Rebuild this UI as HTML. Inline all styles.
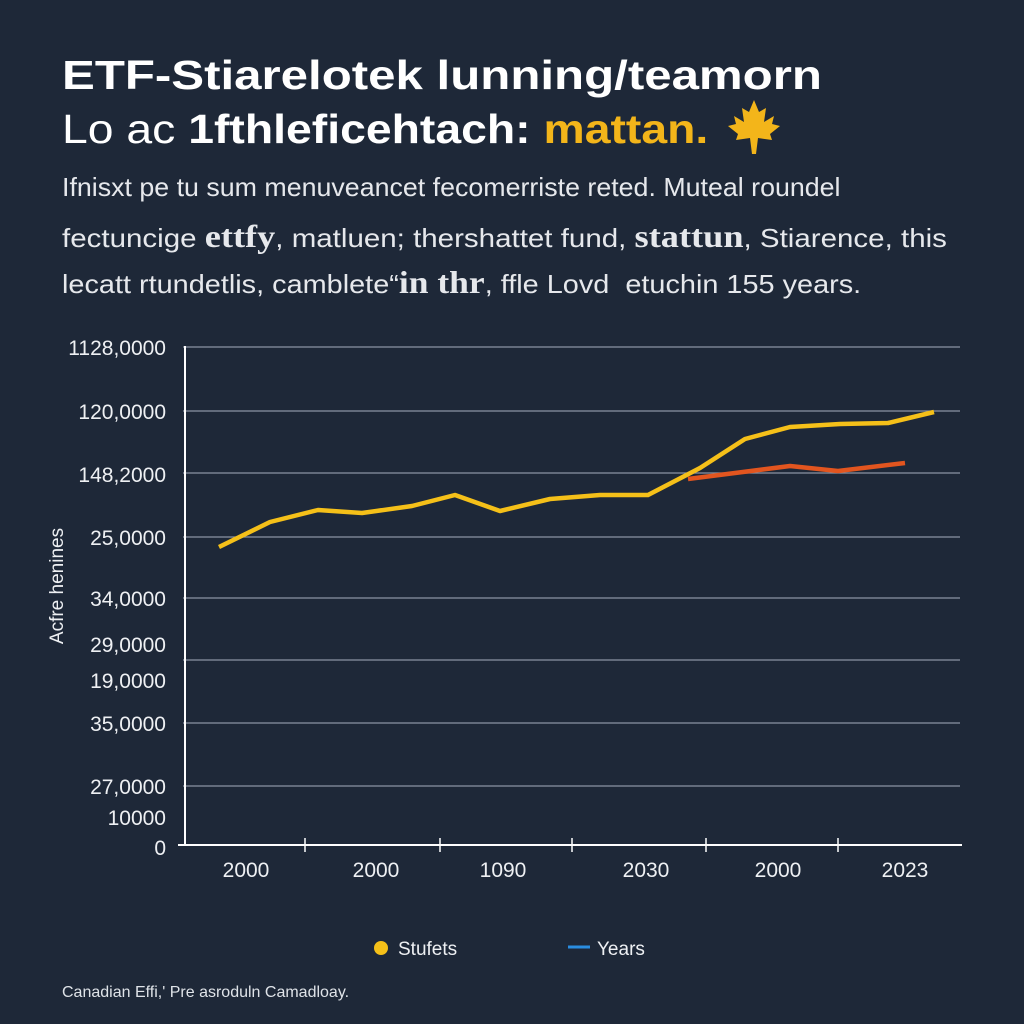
<!DOCTYPE html>
<html><head><meta charset="utf-8"><style>
body{margin:0;background:#1e2838;width:1024px;height:1024px;overflow:hidden;font-family:"Liberation Sans",sans-serif;color:#fff}
.t{position:absolute;white-space:nowrap;transform-origin:0 0}
</style></head><body>
<div class="t" style="left:62px;top:52px;font-size:41px;font-weight:bold;transform:scaleX(1.2)">ETF-Stiarelotek lunning/teamorn</div>
<div class="t" style="left:62px;top:106px;font-size:41px;transform:scaleX(1.13)">Lo ac <b>1fthleficehtach:</b> <b style="color:#f3b51a">mattan.</b></div>
<svg width="64" height="64" viewBox="0 0 64 64" style="position:absolute;left:722px;top:96px"><path fill="#f3b51a" d="M32 4 L37 16 L44 12 L42 26 L52 20 L50 28 L58 30 L48 38 L50 44 L36 42 L34 58 L30 58 L28 42 L14 44 L16 38 L6 30 L14 28 L12 20 L22 26 L20 12 L27 16 Z"/></svg>
<div class="t" style="left:62px;top:172px;font-size:26px;color:#e6e8ec;transform:scaleX(1.03)">Ifnisxt pe tu sum menuveancet fecomerriste reted. Muteal roundel</div>
<div class="t" style="left:62px;top:218px;font-size:26px;color:#e6e8ec;transform:scaleX(1.135)">fectuncige <b style="font-family:'Liberation Serif',serif;font-size:32px">ettfy</b>, matluen; thershattet fund, <b style="font-family:'Liberation Serif',serif;font-size:32px">stattun</b>, Stiarence, this</div>
<div class="t" style="left:62px;top:264px;font-size:26px;color:#e6e8ec;transform:scaleX(1.11)">lecatt rtundetlis, camblete“<b style="font-family:'Liberation Serif',serif;font-size:32px">in thr</b>, ffle Lovd&nbsp; etuchin 155 years.</div>
<svg width="1024" height="1024" style="position:absolute;left:0;top:0">
<g stroke="#8a93a3" stroke-width="1.3">
<line x1="183" x2="960" y1="347" y2="347"/><line x1="183" x2="960" y1="411" y2="411"/>
<line x1="183" x2="960" y1="473" y2="473"/><line x1="183" x2="960" y1="537" y2="537"/>
<line x1="183" x2="960" y1="598" y2="598"/><line x1="183" x2="960" y1="660" y2="660"/>
<line x1="183" x2="960" y1="723" y2="723"/><line x1="183" x2="960" y1="786" y2="786"/>
</g>
<g stroke="#fff" stroke-width="2"><line x1="185" y1="346" x2="185" y2="845"/><line x1="178" y1="845" x2="962" y2="845"/></g>
<g stroke="#fff" stroke-width="1.5"><line x1="305" y1="838" x2="305" y2="852"/><line x1="440" y1="838" x2="440" y2="852"/><line x1="572" y1="838" x2="572" y2="852"/><line x1="706" y1="838" x2="706" y2="852"/><line x1="838" y1="838" x2="838" y2="852"/></g>
<g font-size="21" fill="#eef0f3" text-anchor="end" font-family="Liberation Sans">
<text x="166" y="355">1128,0000</text><text x="166" y="419">120,0000</text><text x="166" y="482">148,2000</text>
<text x="166" y="545">25,0000</text><text x="166" y="606">34,0000</text><text x="166" y="652">29,0000</text>
<text x="166" y="688">19,0000</text><text x="166" y="731">35,0000</text><text x="166" y="794">27,0000</text>
<text x="166" y="825">10000</text><text x="166" y="855">0</text></g>
<text transform="translate(63,586) rotate(-90)" text-anchor="middle" font-size="19" fill="#eef0f3">Acfre henines</text>
<g font-size="21" fill="#eef0f3" text-anchor="middle">
<text x="246" y="877">2000</text><text x="376" y="877">2000</text><text x="503" y="877">1090</text>
<text x="646" y="877">2030</text><text x="778" y="877">2000</text><text x="905" y="877">2023</text></g>
<polyline fill="none" stroke="#f5c019" stroke-width="4.5" stroke-linejoin="round" points="219,547 270,522 318,510 362,513 412,506 455,495 500,511 550,499 600,495 648,495 700,468 745,439 790,427 840,424 888,423 934,412"/>
<polyline fill="none" stroke="#e2551f" stroke-width="4.5" stroke-linejoin="round" points="688,479 735,473 790,466 838,471 905,463"/>
<circle cx="381" cy="948" r="7" fill="#f5c019"/>
<text x="398" y="955" font-size="19" fill="#eef0f3">Stufets</text>
<line x1="568" y1="947" x2="590" y2="947" stroke="#2a8de0" stroke-width="3"/>
<text x="597" y="955" font-size="19" fill="#eef0f3">Years</text>
<text x="62" y="997" font-size="16" fill="#dfe3e8">Canadian Effi,' Pre asroduln Camadloay.</text>
</svg>
</body></html>
